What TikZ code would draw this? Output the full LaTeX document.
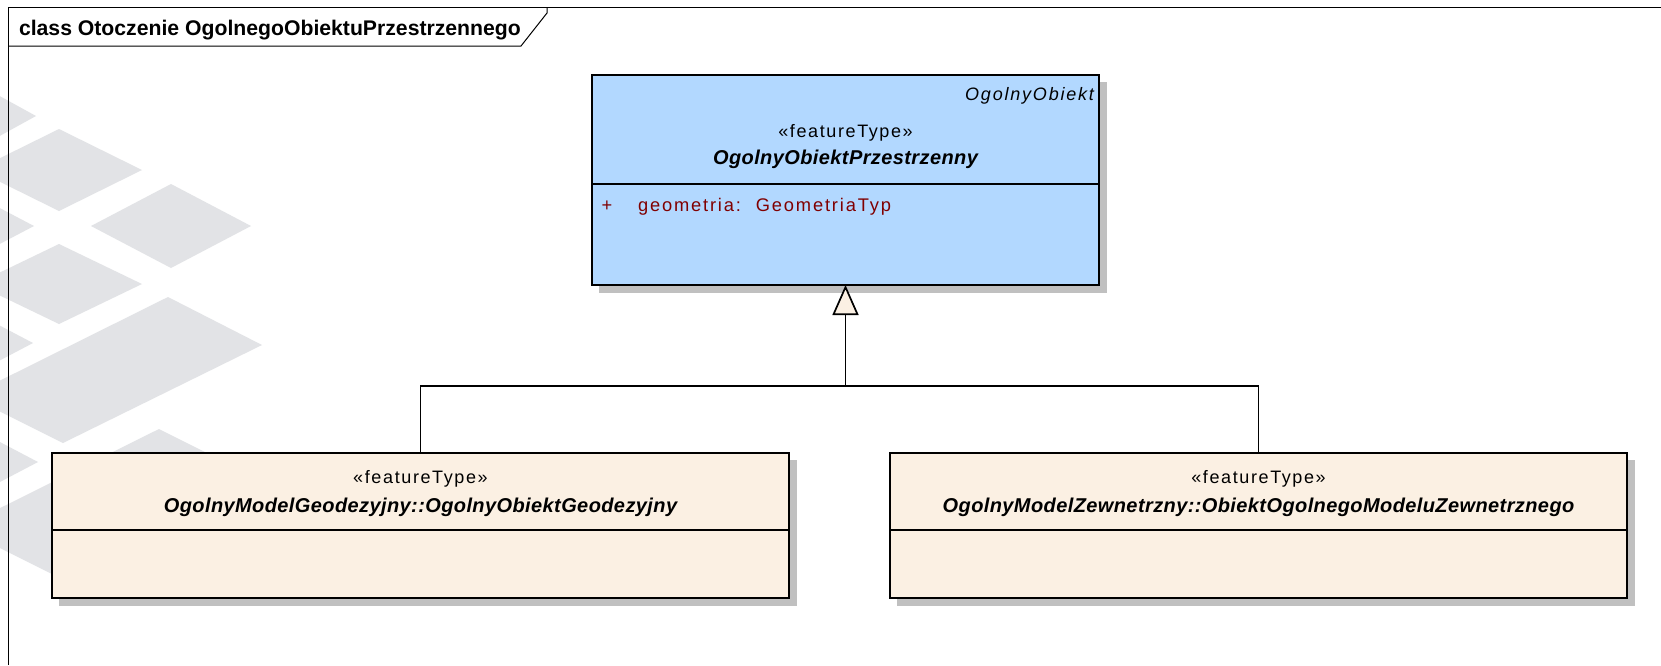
\documentclass[tikz,border=0pt]{standalone}
\usepackage{fontspec}
\setmainfont{Liberation Sans}
\newfontfamily\umlfont[LetterSpace=9]{Liberation Sans}
\newfontfamily\umlfontit[LetterSpace=10]{Liberation Sans}
\newfontfamily\umlnamefont[LetterSpace=2]{Liberation Sans}
\usetikzlibrary{arrows.meta}
\definecolor{clsblue}{RGB}{178,216,255}
\definecolor{clsbeige}{RGB}{251,240,227}
\definecolor{shadowgray}{RGB}{192,192,192}
\definecolor{wmgray}{RGB}{226,227,230}
\definecolor{attrred}{RGB}{128,0,0}
\newcommand\umlsz{\fontsize{18}{21}\selectfont}
\newcommand\wmdiamond[4]{\fill[wm] ({#1-#3},#2) -- (#1,{#2-#4}) -- ({#1+#3},#2) -- (#1,{#2+#4}) -- cycle;}
\tikzset{
  wm/.style={fill=wmgray},
  frameline/.style={draw=black, line width=1pt},
  classbox/.style={draw=black, line width=2pt, anchor=north west, inner sep=0pt, outer sep=0pt},
  shadowbox/.style={fill=shadowgray},
  sepline/.style={draw=black, line width=1.5pt},
  conn/.style={draw=black, line width=1.7pt},
  txt/.style={inner sep=0pt, outer sep=0pt},
  stereo/.style={txt, font=\umlfont\umlsz},
  clsname/.style={txt, font=\umlnamefont\fontsize{20}{23}\selectfont\bfseries\itshape},
  itl/.style={txt, font=\umlfontit\umlsz\itshape},
  attr/.style={txt, font=\umlfontit\fontsize{18.3}{21}\selectfont, text=attrred},
  titletext/.style={txt, font=\fontsize{21.2}{24}\selectfont\bfseries}
}
\begin{document}
\begin{tikzpicture}[x=1pt,y=-1pt]
\useasboundingbox (0,0) rectangle (1661,665);
\fill[white] (0,0) rectangle (1661,665);
\begin{scope}
\clip (0,0) rectangle (1661,665);
% watermark
\wmdiamond{-44}{116}{80}{44}
\wmdiamond{59}{170}{83}{41}
\wmdiamond{171}{226}{80}{42}
\wmdiamond{-46}{226}{80}{42}
\wmdiamond{59}{284}{83}{40}
\wmdiamond{-47}{343}{80}{42}
\fill[wm] (168,297) -- (262,345) -- (63,443) -- (-31,396) -- cycle;
\wmdiamond{-42}{462}{80}{42}
\fill[wm] (159,429) -- (253,476) -- (54,575) -- (-40,528) -- cycle;
\end{scope}
% frame
\draw[frameline] (8,665) -- (8,7) -- (1661,7);
\draw[frameline] (8,46) -- (521,46) -- (547,13) -- (547,7);
\node[titletext, anchor=base west] (title) at (19,35) {class Otoczenie OgolnegoObiektuPrzestrzennego};
% shadows
\fill[shadowbox] (599,81.5) rectangle (1107,293);
\fill[shadowbox] (59,460) rectangle (797,606);
\fill[shadowbox] (897,460) rectangle (1635,606);
% superclass
\node[classbox, fill=clsblue, minimum width=507pt, minimum height=210.5pt] (sup) at (592,74.5) {};
\draw[sepline] (sup.west |- 0,184) -- (sup.east |- 0,184);
\node[itl, anchor=base east] (supns) at (1094,100.5) {OgolnyObiekt};
\node[stereo, anchor=base] (supst) at (sup.north |- 0,137.5) {«featureType»};
\node[clsname, anchor=base] (supname) at (sup.north |- 0,164.5) {OgolnyObiektPrzestrzenny};
\node[attr, anchor=base] (plus) at (607,211) {+};
\node[attr, anchor=base west] (geom) at (638,211) {geometria:\hspace{0.6em}\hspace{4pt}GeometriaTyp};
% left subclass
\node[classbox, fill=clsbeige, minimum width=737pt, minimum height=145pt] (geo) at (52,453) {};
\draw[sepline] (geo.west |- 0,530) -- (geo.east |- 0,530);
\node[stereo, anchor=base] (geost) at (geo.north |- 0,483) {«featureType»};
\node[clsname, anchor=base] (geoname) at (geo.north |- 0,512.5) {OgolnyModelGeodezyjny::OgolnyObiektGeodezyjny};
% right subclass
\node[classbox, fill=clsbeige, minimum width=737pt, minimum height=145pt] (zew) at (890,453) {};
\draw[sepline] (zew.west |- 0,530) -- (zew.east |- 0,530);
\node[stereo, anchor=base] (zewst) at (zew.north |- 0,483) {«featureType»};
\node[clsname, anchor=base] (zewname) at (zew.north |- 0,512.5) {OgolnyModelZewnetrzny::ObiektOgolnegoModeluZewnetrznego};
% generalization
\coordinate (j) at (sup.south |- 0,385.7);
\draw[conn] (geo.north) |- (j) -| (zew.north);
\draw[conn, -{Triangle[open, fill=clsbeige, length=30pt, width=26pt]}] (j) -- (sup.south);
\end{tikzpicture}
\end{document}
